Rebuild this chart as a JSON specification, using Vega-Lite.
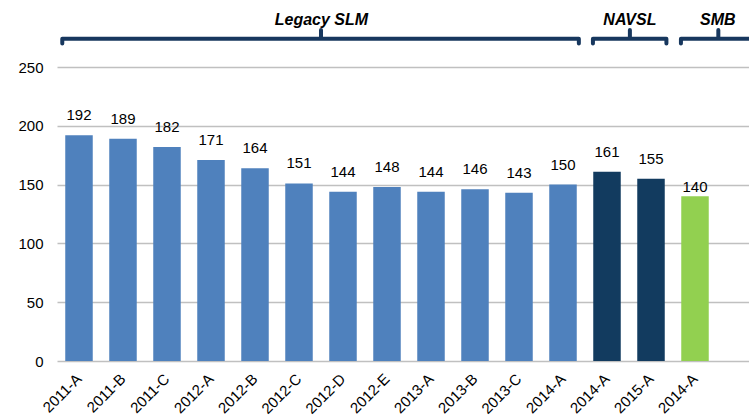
{
  "$schema": "https://vega.github.io/schema/vega-lite/v6.json",
  "width": 692,
  "height": 294,
  "autosize": "none",
  "padding": {"left": 57, "top": 67, "right": 0, "bottom": 58},
  "config": {
    "view": {"stroke": null},
    "font": "Liberation Sans",
    "axis": {"labelFont": "Liberation Sans", "labelColor": "#000000"}
  },
  "datasets": {
    "bars": [
      {"key": "00|2011-A", "value": 192, "segment": "Legacy SLM"},
      {"key": "01|2011-B", "value": 189, "segment": "Legacy SLM"},
      {"key": "02|2011-C", "value": 182, "segment": "Legacy SLM"},
      {"key": "03|2012-A", "value": 171, "segment": "Legacy SLM"},
      {"key": "04|2012-B", "value": 164, "segment": "Legacy SLM"},
      {"key": "05|2012-C", "value": 151, "segment": "Legacy SLM"},
      {"key": "06|2012-D", "value": 144, "segment": "Legacy SLM"},
      {"key": "07|2012-E", "value": 148, "segment": "Legacy SLM"},
      {"key": "08|2013-A", "value": 144, "segment": "Legacy SLM"},
      {"key": "09|2013-B", "value": 146, "segment": "Legacy SLM"},
      {"key": "10|2013-C", "value": 143, "segment": "Legacy SLM"},
      {"key": "11|2014-A", "value": 150, "segment": "Legacy SLM"},
      {"key": "12|2014-A", "value": 161, "segment": "NAVSL"},
      {"key": "13|2015-A", "value": 155, "segment": "NAVSL"},
      {"key": "14|2014-A", "value": 140, "segment": "SMB"}
    ],
    "braces": [
      {"segment": "Legacy SLM", "step": 1, "pos": -0.38, "level": 270},
      {"segment": "Legacy SLM", "step": 2, "pos": -0.38, "level": 274},
      {"segment": "Legacy SLM", "step": 3, "pos": 5.5, "level": 274},
      {"segment": "Legacy SLM", "step": 4, "pos": 5.5, "level": 281.5},
      {"segment": "Legacy SLM", "step": 5, "pos": 5.5, "level": 274},
      {"segment": "Legacy SLM", "step": 6, "pos": 11.36, "level": 274},
      {"segment": "Legacy SLM", "step": 7, "pos": 11.36, "level": 270},
      {"segment": "NAVSL", "step": 1, "pos": 11.68, "level": 270},
      {"segment": "NAVSL", "step": 2, "pos": 11.68, "level": 274},
      {"segment": "NAVSL", "step": 3, "pos": 12.52, "level": 274},
      {"segment": "NAVSL", "step": 4, "pos": 12.52, "level": 281.5},
      {"segment": "NAVSL", "step": 5, "pos": 12.52, "level": 274},
      {"segment": "NAVSL", "step": 6, "pos": 13.35, "level": 274},
      {"segment": "NAVSL", "step": 7, "pos": 13.35, "level": 270},
      {"segment": "SMB", "step": 1, "pos": 13.68, "level": 270},
      {"segment": "SMB", "step": 2, "pos": 13.68, "level": 274},
      {"segment": "SMB", "step": 3, "pos": 14.53, "level": 274},
      {"segment": "SMB", "step": 4, "pos": 14.53, "level": 281.5},
      {"segment": "SMB", "step": 5, "pos": 14.53, "level": 274},
      {"segment": "SMB", "step": 6, "pos": 15.38, "level": 274},
      {"segment": "SMB", "step": 7, "pos": 15.38, "level": 270}
    ],
    "groups": [
      {"segment": "Legacy SLM", "pos": 5.51, "level": 285.7},
      {"segment": "NAVSL", "pos": 12.52, "level": 285.7},
      {"segment": "SMB", "pos": 14.52, "level": 285.7}
    ]
  },
  "layer": [
    {
      "data": {"name": "bars"},
      "encoding": {
        "x": {
          "field": "key",
          "type": "nominal",
          "sort": "ascending",
          "scale": {"paddingInner": 0.375, "paddingOuter": 0.5511, "align": 0.1701},
          "axis": {
            "title": null,
            "labelExpr": "split(datum.label, '|')[1]",
            "labelAngle": -45,
            "labelAlign": "right",
            "labelBaseline": "middle",
            "labelPadding": 15,
            "labelFontSize": 15,
            "domain": false,
            "ticks": false,
            "grid": false
          }
        },
        "y": {
          "field": "value",
          "type": "quantitative",
          "scale": {"domain": [0, 250], "nice": false},
          "axis": {
            "title": null,
            "values": [0, 50, 100, 150, 200, 250],
            "grid": true,
            "gridColor": "#c0c0c0",
            "gridWidth": 1.5,
            "domain": false,
            "ticks": false,
            "labelPadding": 14,
            "labelFontSize": 15
          }
        }
      },
      "layer": [
        {
          "mark": {"type": "bar"},
          "encoding": {
            "color": {
              "field": "segment",
              "type": "nominal",
              "scale": {"domain": ["Legacy SLM", "NAVSL", "SMB"], "range": ["#4f81bd", "#123b5f", "#92d050"]},
              "legend": null
            }
          }
        },
        {
          "transform": [{"filter": "datum.segment !== 'SMB'"}],
          "mark": {"type": "text", "fontSize": 15, "baseline": "alphabetic", "dy": -15, "color": "#000000"},
          "encoding": {"text": {"field": "value", "type": "quantitative"}}
        },
        {
          "transform": [{"filter": "datum.segment === 'SMB'"}],
          "mark": {"type": "text", "fontSize": 15, "baseline": "alphabetic", "dy": -4, "color": "#000000"},
          "encoding": {"text": {"field": "value", "type": "quantitative"}}
        }
      ]
    },
    {
      "encoding": {
        "x": {
          "field": "pos",
          "type": "quantitative",
          "scale": {"domain": [-0.5, 15.227], "nice": false, "zero": false},
          "axis": null
        },
        "y": {
          "field": "level",
          "type": "quantitative",
          "scale": {"domain": [0, 250], "nice": false},
          "axis": null
        }
      },
      "layer": [
        {
          "data": {"name": "braces"},
          "mark": {"type": "line", "color": "#17375e", "strokeWidth": 4, "strokeJoin": "round", "strokeCap": "round"},
          "encoding": {
            "detail": {"field": "segment", "type": "nominal"},
            "order": {"field": "step", "type": "quantitative"}
          }
        },
        {
          "data": {"name": "groups"},
          "mark": {"type": "text", "fontSize": 16, "fontWeight": "bold", "fontStyle": "italic", "baseline": "alphabetic", "color": "#000000"},
          "encoding": {"text": {"field": "segment", "type": "nominal"}}
        }
      ]
    }
  ],
  "resolve": {"scale": {"x": "independent", "y": "independent"}}
}
